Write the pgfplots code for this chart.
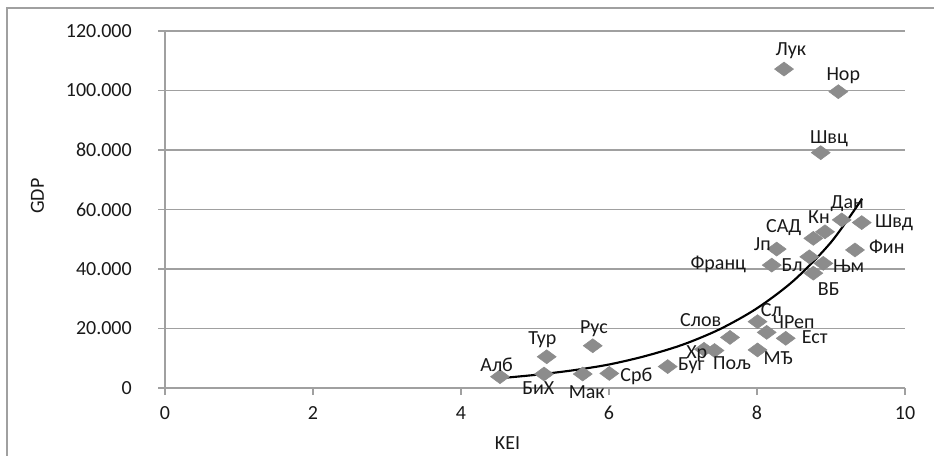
\documentclass[border=0pt]{standalone}
\usepackage{pgfplots}
\usepackage{pgfplotstable}
\pgfplotsset{compat=1.18}
\usepackage{fontspec}
\setmainfont{Carlito}

\definecolor{gridgray}{RGB}{160,160,160}
\definecolor{markgray}{RGB}{140,140,140}
\definecolor{txt}{RGB}{25,25,25}

% KEI / GDP per country
\pgfplotstableread{
x     y
4.527 3800
5.158 10500
5.122 4700
5.780 14200
5.645 4700
6.004 4900
6.793 7200
7.284 13000
7.426 12600
7.635 17000
8.007 22300
8.131 18700
8.388 16700
8.007 12800
8.199 41300
8.266 46700
8.707 44100
8.896 41900
8.761 38600
8.761 50300
8.919 52500
9.145 56500
9.415 55600
9.324 46400
8.365 107200
9.099 99600
8.861 79100
}\keidata

% label positions (centre of text)
\pgfplotstableread{
x     y      lab
4.482 7730   Алб
5.099 16130  Тур
5.797 20070  Рус
5.045 -100   БиХ
5.699 -1340  Мак
6.369 3800   Срб
7.112 7630   Буг
7.185 11660  Хр
7.662 8300   Пољ
7.239 22960  Слов
8.193 26220  Сл
8.496 22290  ЧРеп
8.780 17240  Ест
8.288 10080  МЂ
7.477 41680  Франц
8.072 48400  Јп
8.473 41340  Бл
9.239 40910  Њм
8.969 33380  ВБ
8.361 54020  САД
8.838 57380  Кн
9.220 62080  Дан
9.851 55460  Швд
9.753 47390  Фин
8.459 113500 Лук
9.166 105100 Нор
8.973 83800  Швц
}\keilabels

\begin{document}
\fontsize{15pt}{18pt}\selectfont
\begin{tikzpicture}
\begin{axis}[
    scale only axis,
    width=555pt, height=267.75pt,
    xmin=0, xmax=10,
    ymin=0, ymax=120000,
    scaled ticks=false,
    xtick={0,2,4,6,8,10},
    xticklabels={0,2,4,6,8,10},
    ytick={0,20000,40000,60000,80000,100000,120000},
    yticklabels={0,20.000,40.000,60.000,80.000,100.000,120.000},
    axis lines=left,
    axis line style={-, draw=gridgray, line width=1.1pt},
    ymajorgrids,
    grid style={draw=gridgray, line width=1.1pt},
    tick align=outside,
    major tick length=5.25pt,
    tick style={draw=gridgray, line width=1.1pt},
    tick label style={text=txt},
    yticklabel style={anchor=east, inner sep=0pt, xshift=-19.5pt},
    xticklabel style={anchor=center, inner sep=0pt, yshift=-13.5pt},
    xlabel={KEI},
    ylabel={GDP},
    xlabel style={at={(axis description cs:0.4628,-0.1555)}, anchor=center, inner sep=0pt, text=txt},
    ylabel style={at={(axis description cs:-0.1723,0.5378)}, anchor=center, inner sep=0pt, text=txt},
    clip=false,
]
\addplot[only marks, mark=diamond*, mark size=5.25pt,
    mark options={xscale=1.81, fill=markgray, draw=markgray}]
    table[x=x, y=y] {\keidata};

% exponential trend line
\addplot[black, line width=1.6pt, smooth] coordinates {
    (4.53,3300) (5.0,4400) (5.5,5900) (6.0,7900) (6.5,10800)
    (7.0,14600) (7.5,19800) (8.0,26800) (8.5,36200) (9.0,49000) (9.42,63600)
};

\addplot[draw=none, mark=none, nodes near coords, point meta=explicit symbolic,
    every node near coord/.style={anchor=center, inner sep=0pt, text=txt}]
    table[x=x, y=y, meta=lab] {\keilabels};

\coordinate (bl) at (axis description cs:-0.22297,-0.19048);
\coordinate (tr) at (axis description cs:1.03919,1.08683);
\coordinate (fl) at (axis description cs:-0.2135,1.0644);
\end{axis}
\draw[gridgray, line width=1.5pt] (fl |- bl) -- (fl) -- (fl -| tr);
\pgfresetboundingbox
\path[use as bounding box] (bl) rectangle (tr);
\end{tikzpicture}
\end{document}
